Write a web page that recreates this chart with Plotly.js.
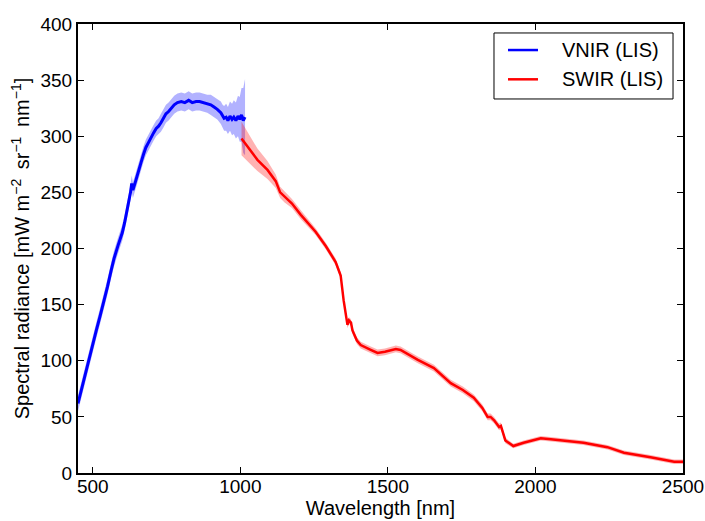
<!DOCTYPE html>
<html>
<head>
<meta charset="utf-8">
<script src="https://cdn.plot.ly/plotly-3.0.1.min.js"></script>
<style>
  html, body { margin: 0; padding: 0; background: #fff; }
  #chart { width: 705px; height: 521px; }
</style>
</head>
<body>
<div id="chart"></div>
<script>
// VNIR spectrometer: wavelength [nm], mean radiance and standard deviation
const vnirWl = [450,462,475,487,500,512,525,537,550,562,572,586,600,608,615,622,628,632,636,643,650,657,663,672,680,690,697,706,715,723,731,740,748,757,765,776,787,800,812,825,837,850,862,876,888,900,911,922,934,940,945,952,958,965,972,978,985,992,998,1004,1010,1016];
const vnirRad = [62,75,88,100,114,127,140,152,166,180,191,203,214,223,232,241,250,258,252,258,265,271,276,284,290,295,299,303,307,309,312,316,320,322,325,328,330,331,330,332,330,331,331,330,329,328,326,324,321,318,316,317,314,318,315,317,314,318,315,319,314,317];
const vnirStd = [7,7,7,7,7,7,7,7,7,7,7,7,7,7,7,7,7,7,7,7,7,7,7,7,7,7,7,7,7,7,8,8,8,8,8,8,8,8,8,8,8,8,8,8,8,9,9,9,10,10,11,12,12,13,14,15,16,18,20,24,29,34];

// SWIR spectrometer: wavelength [nm], mean radiance and standard deviation
const swirWl = [1004,1024,1058,1092,1120,1135,1150,1175,1205,1255,1290,1323,1340,1350,1363,1368,1375,1380,1395,1408,1440,1465,1490,1527,1543,1600,1656,1713,1754,1791,1820,1838,1848,1860,1877,1883,1898,1925,1960,2018,2052,2100,2163,2244,2300,2390,2470,2500];
const swirRad = [298,291,279,270,260,250,246,240,230,215,202,188,176,154,132,136,134,127,118,114,110,107,108,110.5,109.6,101,93.5,80,74,67,58,50,50,47,41,42,29,24,27,31,30,28.5,27,23,18,14,10,10];
const swirStd = [15,13,10,8,6,5,5,4,4,3,3,3,3,3,3,3,3,3,3,3,3,3,3,3,3,3,3,3,3,3,3,3,3,3,3,3,2.5,2,2,2,2,2,2,2,2,2,2,2];

// Legend entries
const seriesNames = ['VNIR (LIS)', 'SWIR (LIS)'];
const seriesColors = ['#0000ff', '#ff0000'];

const addArr = (a, b, s) => a.map((v, i) => v + s * b[i]);

function band(wl, rad, std, fill) {
  return [
    { x: wl, y: addArr(rad, std, 1), mode: 'lines', line: { width: 0, color: fill },
      showlegend: false, hoverinfo: 'skip' },
    { x: wl, y: addArr(rad, std, -1), mode: 'lines', line: { width: 0, color: fill },
      fill: 'tonexty', fillcolor: fill, showlegend: false, hoverinfo: 'skip' }
  ];
}

const traces = [
  ...band(vnirWl, vnirRad, vnirStd, 'rgba(0,0,255,0.3)'),
  ...band(swirWl, swirRad, swirStd, 'rgba(255,0,0,0.3)'),
  { x: vnirWl, y: vnirRad, mode: 'lines', name: seriesNames[0], showlegend: false,
    line: { color: seriesColors[0], width: 3 } },
  { x: swirWl, y: swirRad, mode: 'lines', name: seriesNames[1], showlegend: false,
    line: { color: seriesColors[1], width: 2.5 } }
];

const FONT = 'Liberation Sans, Arial, Helvetica, sans-serif';

const axisCommon = {
  showline: true, linecolor: '#000', linewidth: 2, mirror: 'ticks',
  ticks: 'inside', ticklen: 6, tickwidth: 1, tickcolor: '#000',
  showgrid: false, zeroline: false, ticklabeloverflow: 'allow',
  tickfont: { family: FONT, size: 19, color: '#000' }
};

// legend box drawn in paper coordinates
const legendBox = { x0: 0.6876, x1: 0.9835, y0: 0.833, y1: 0.98 };
const legendRows = [0.942, 0.8768];
const shapes = [
  { type: 'rect', xref: 'paper', yref: 'paper',
    x0: legendBox.x0, x1: legendBox.x1, y0: legendBox.y0, y1: legendBox.y1,
    line: { color: '#000', width: 1 }, fillcolor: '#fff' }
];
const annotations = [];
seriesNames.forEach((name, i) => {
  shapes.push({ type: 'line', xref: 'paper', yref: 'paper',
    x0: 0.7107, x1: 0.7603, y0: legendRows[i], y1: legendRows[i],
    line: { color: seriesColors[i], width: 2.5 } });
  annotations.push({ xref: 'paper', yref: 'paper', x: 0.7967, y: legendRows[i],
    xanchor: 'left', yanchor: 'middle', showarrow: false, text: name,
    font: { family: FONT, size: 20, color: '#000' } });
});

const layout = {
  width: 705, height: 521,
  margin: { l: 78, r: 22, t: 24, b: 48 },
  paper_bgcolor: '#fff', plot_bgcolor: '#fff',
  font: { family: FONT, color: '#000' },
  showlegend: false,
  shapes: shapes,
  annotations: annotations,
  xaxis: Object.assign({}, axisCommon, {
    range: [450, 2500], tickvals: [500, 1000, 1500, 2000, 2500],
    ticklabelstandoff: -5,
    title: { text: 'Wavelength [nm]', font: { size: 20 }, standoff: 2 }
  }),
  yaxis: Object.assign({}, axisCommon, {
    range: [0, 400], dtick: 50, tick0: 0,
    title: { text: 'Spectral radiance [mW m<sup>−2</sup>\u2009 sr<sup>−1</sup>\u2009 nm<sup>−1</sup>]',
             font: { size: 20 }, standoff: 5 }
  })
};

Plotly.newPlot('chart', traces, layout, { staticPlot: true, displayModeBar: false });
</script>
</body>
</html>
